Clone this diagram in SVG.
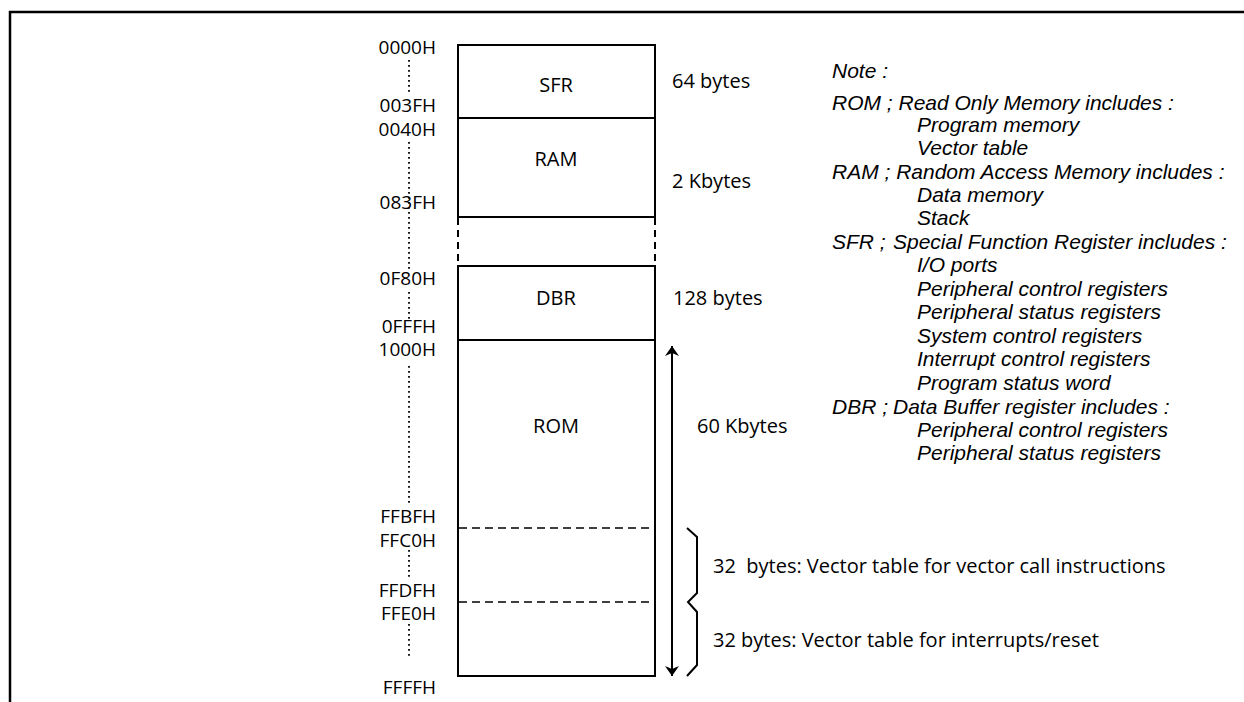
<svg xmlns="http://www.w3.org/2000/svg" width="1244" height="702" viewBox="0 0 1244 702">
<defs>
<style>
text{font-family:"Open Sans","Liberation Sans",sans-serif;fill:#000}
.addr{font-size:19px;text-anchor:end}
.lbl{font-size:20px;text-anchor:middle}
.sz{font-size:20px}
.note{font-family:"Liberation Sans",Arial,sans-serif;font-size:21px;font-style:italic}
.box{fill:none;stroke:#000;stroke-width:2}
.dash{fill:none;stroke:#000;stroke-width:1.6;stroke-dasharray:8 5}
.dot{fill:none;stroke:#000;stroke-width:1.8;stroke-dasharray:1.8 3.2}
.line{fill:none;stroke:#000;stroke-width:2}
</style>
<marker id="ah" viewBox="0 0 10 20" refX="10" refY="10" markerWidth="10" markerHeight="20" markerUnits="userSpaceOnUse" orient="auto">
<path d="M0,3 L10,10 L0,17 L3,10 Z" fill="#000"/>
</marker>
</defs>
<rect width="1244" height="702" fill="#fff"/>
<g id="frame">
<path d="M10,702 L10,12 L1244,12" fill="none" stroke="#000" stroke-width="2.5"/>
</g>
<g id="memory-map">
<g id="SFR"><rect class="box" x="458" y="45" width="197" height="73"/><text class="lbl" x="556" y="92">SFR</text></g>
<g id="RAM"><rect class="box" x="458" y="118" width="197" height="99"/><text class="lbl" x="556" y="166">RAM</text></g>
<g id="gap"><path class="dash" d="M458,218 V266 M655,218 V266" style="stroke-width:2;stroke-dasharray:7 5"/></g>
<g id="DBR"><rect class="box" x="458" y="266" width="197" height="74"/><text class="lbl" x="556" y="305">DBR</text></g>
<g id="ROM"><rect class="box" x="458" y="340" width="197" height="336"/><text class="lbl" x="556" y="433">ROM</text>
<path class="dash" d="M459,528 H654 M459,602 H654"/></g>
</g>
<g id="addresses">
<text class="addr" x="436" y="54">0000H</text>
<text class="addr" x="436" y="112">003FH</text>
<text class="addr" x="436" y="136">0040H</text>
<text class="addr" x="436" y="209">083FH</text>
<text class="addr" x="436" y="285">0F80H</text>
<text class="addr" x="436" y="333">0FFFH</text>
<text class="addr" x="436" y="356">1000H</text>
<text class="addr" x="436" y="523">FFBFH</text>
<text class="addr" x="436" y="547">FFC0H</text>
<text class="addr" x="436" y="597">FFDFH</text>
<text class="addr" x="436" y="620">FFE0H</text>
<text class="addr" x="436" y="694">FFFFH</text>
</g>
<g id="connectors">
<path class="dot" d="M409,60 V94 M409,142 V272 M409,292 V320 M409,366 V505 M409,550 V580 M409,624 V656"/>
<path class="line" d="M672,674 V346" marker-end="url(#ah)"/>
<path class="line" d="M672,356 V676" marker-end="url(#ah)"/>
<path class="line" d="M687,528 L697,537 V593 L688,602 L697,612 V665 L687,676" stroke-width="1.8"/>
</g>
<g id="sizes">
<text class="sz" x="672" y="88">64 bytes</text>
<text class="sz" x="672" y="188">2 Kbytes</text>
<text class="sz" x="673" y="305">128 bytes</text>
<text class="sz" x="697" y="433">60 Kbytes</text>
<text class="sz" x="713" y="573" xml:space="preserve">32  bytes: Vector table for vector call instructions</text>
<text class="sz" x="713" y="647">32 bytes: Vector table for interrupts/reset</text>
</g>
<g id="notes">
<text class="note" x="832" y="78">Note :</text>
<text class="note" x="832" y="110">ROM ; Read Only Memory includes :</text>
<text class="note" x="917" y="132">Program memory</text>
<text class="note" x="917" y="155">Vector table</text>
<text class="note" x="832" y="179">RAM ; Random Access Memory includes :</text>
<text class="note" x="917" y="202">Data memory</text>
<text class="note" x="917" y="225">Stack</text>
<text class="note" x="832" y="249">SFR ;</text>
<text class="note" x="893" y="249">Special Function Register includes :</text>
<text class="note" x="917" y="272">I/O ports</text>
<text class="note" x="917" y="296">Peripheral control registers</text>
<text class="note" x="917" y="319">Peripheral status registers</text>
<text class="note" x="917" y="343">System control registers</text>
<text class="note" x="917" y="366">Interrupt control registers</text>
<text class="note" x="917" y="390">Program status word</text>
<text class="note" x="832" y="414">DBR ;</text>
<text class="note" x="893" y="414">Data Buffer register includes :</text>
<text class="note" x="917" y="437">Peripheral control registers</text>
<text class="note" x="917" y="460">Peripheral status registers</text>
</g>
</svg>
